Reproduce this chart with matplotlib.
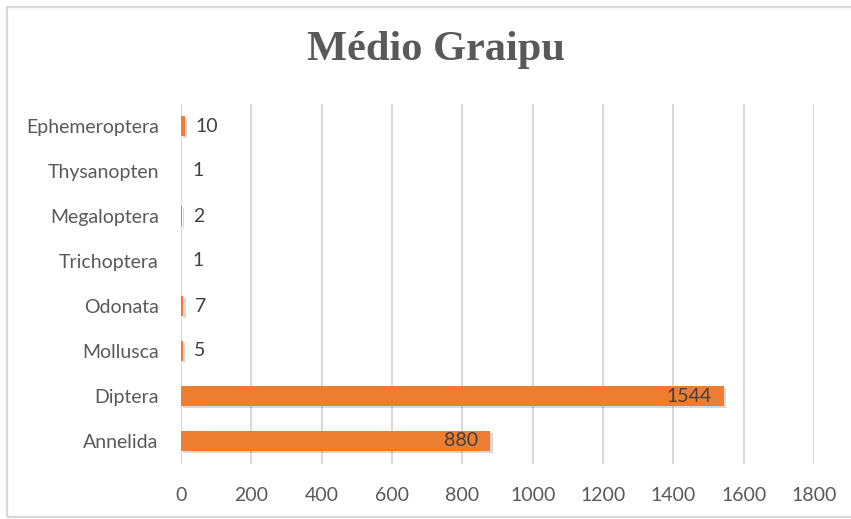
import matplotlib
matplotlib.use("Agg")
import matplotlib.pyplot as plt
from matplotlib.patches import Rectangle
import matplotlib.patheffects as pe

categories = ["Annelida", "Diptera", "Mollusca", "Odonata", "Trichoptera",
              "Megaloptera", "Thysanopten", "Ephemeroptera"]
values = [880, 1544, 5, 7, 1, 2, 1, 10]
xticks = [0, 200, 400, 600, 800, 1000, 1200, 1400, 1600, 1800]
title = "Médio Graipu"

W, H = 851, 519
fig = plt.figure(figsize=(W / 100, H / 100), dpi=100)
fig.patch.set_facecolor("white")

# outer chart border
fig.patches.append(Rectangle((7 / W, 2 / H), 1.2, (517 - 7) / H,
                             transform=fig.transFigure, fill=False,
                             edgecolor="#D9D9D9", linewidth=1.6))

left, right = 181 / W, 814 / W
top, bottom = 1 - 103.5 / H, 1 - 463.5 / H
ax = fig.add_axes([left, bottom, right - left, top - bottom])

ypos = list(range(len(categories)))
bars = ax.barh(ypos, values, height=0.44, color="#ED7D31", zorder=3,
               edgecolor="none")
for b in bars:
    b.set_path_effects([pe.SimplePatchShadow(offset=(1.5, -1.5), alpha=0.2,
                                             shadow_rgbFace="#404040"),
                        pe.Normal()])

ax.set_xlim(0, 1800)
ax.set_ylim(-0.5, len(categories) - 0.5)
ax.set_xticks(xticks)
ax.set_xticklabels([str(t) for t in xticks])
ax.set_yticks(ypos)
ax.set_yticklabels(categories)
ax.grid(axis="x", color="#D9D9D9", linewidth=1.5, zorder=0)
ax.set_axisbelow(True)
for s in ax.spines.values():
    s.set_visible(False)
ax.tick_params(axis="both", length=0, colors="#595959", labelsize=14)
ax.tick_params(axis="x", pad=17)
ax.tick_params(axis="y", pad=16)
for lab in ax.get_xticklabels() + ax.get_yticklabels():
    lab.set_fontfamily("Lato")
    lab.set_color("#595959")

for y, v in zip(ypos, values):
    if v > 300:
        ax.annotate(str(v), xy=(v, y), xytext=(-9, 0), textcoords="offset points",
                    ha="right", va="center", fontsize=14, color="#404040",
                    family="Lato", zorder=5)
    else:
        ax.annotate(str(v), xy=(v, y), xytext=(8, 0), textcoords="offset points",
                    ha="left", va="center", fontsize=14, color="#404040",
                    family="Lato", zorder=5)

fig.text(436 / W, 1 - 50 / H, title, ha="center", va="center",
         fontsize=30.5, fontweight="bold", family="Liberation Serif", color="#595959")

fig.savefig("out.png", dpi=100)
